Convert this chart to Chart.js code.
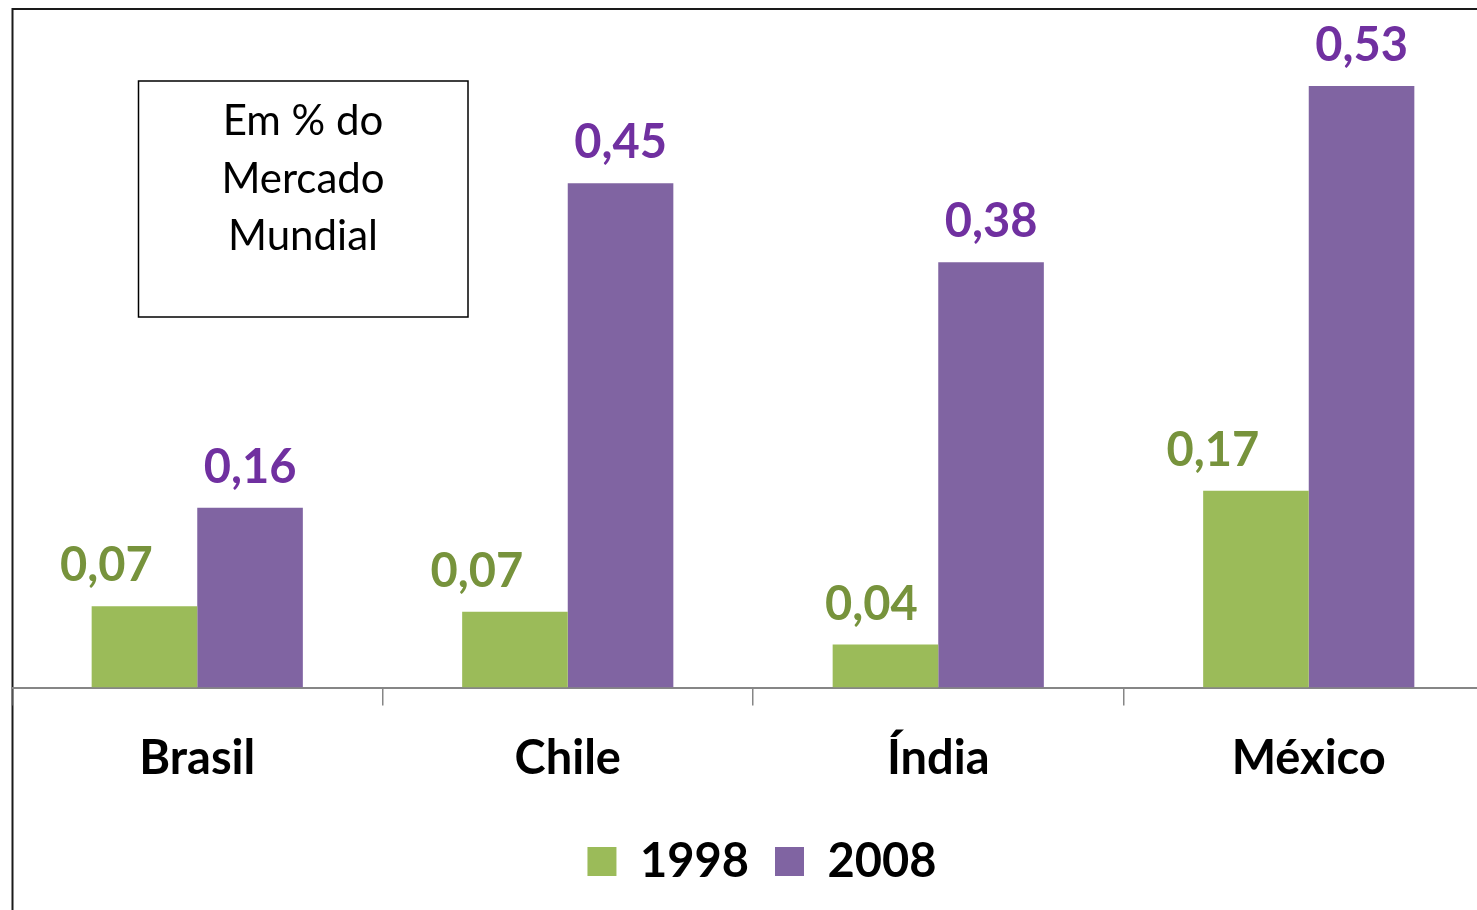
<!DOCTYPE html>
<html>
<head>
<meta charset="utf-8">
<script src="https://cdn.jsdelivr.net/npm/chart.js@4/dist/chart.umd.min.js"></script>
<style>
  html, body { margin: 0; padding: 0; background: #fff; overflow: hidden; }
  #wrap { position: absolute; left: 0; top: 0; width: 1528px; height: 930px; }
</style>
</head>
<body>
<div id="wrap"><canvas id="c" width="1528" height="930"></canvas></div>
<script>
const categories = ['Brasil', 'Chile', 'Índia', 'México'];
const seriesNames = ['1998', '2008'];
const values1998 = [0.072, 0.067, 0.038, 0.174];
const values2008 = [0.159, 0.446, 0.376, 0.532];
const insetLines = ['Em % do', 'Mercado', 'Mundial'];

const FONT = 'Lato, "Open Sans", sans-serif';
const fmt = v => v.toFixed(2).replace('.', ',');

const frameAndInset = {
  id: 'frameAndInset',
  beforeDraw(chart) {
    const ctx = chart.ctx;
    ctx.save();
    ctx.fillStyle = '#fff';
    ctx.fillRect(0, 0, chart.width, chart.height);
    ctx.strokeStyle = '#1a1a1a';
    ctx.lineWidth = 2;
    ctx.beginPath();
    ctx.moveTo(12.5, chart.height + 2);
    ctx.lineTo(12.5, 9);
    ctx.lineTo(chart.width + 2, 9);
    ctx.stroke();
    ctx.restore();
  },
  afterDraw(chart) {
    const ctx = chart.ctx;
    ctx.save();
    ctx.strokeStyle = '#000';
    ctx.lineWidth = 1.5;
    ctx.strokeRect(138.5, 81, 329.5, 236);
    ctx.fillStyle = '#000';
    ctx.font = '42px ' + FONT;
    ctx.textAlign = 'center';
    ctx.textBaseline = 'alphabetic';
    const base = [135, 193, 250];
    insetLines.forEach((t, i) => ctx.fillText(t, 303, base[i]));
    ctx.restore();
  }
};

const valueLabels = {
  id: 'valueLabels',
  afterDatasetsDraw(chart, args, opts) {
    const ctx = chart.ctx;
    ctx.save();
    ctx.font = 'bold 47px ' + FONT;
    ctx.textAlign = 'center';
    ctx.textBaseline = 'alphabetic';
    chart.data.datasets.forEach((ds, di) => {
      const meta = chart.getDatasetMeta(di);
      ctx.fillStyle = opts.colors[di];
      meta.data.forEach((bar, i) => {
        const dx = opts.shiftX[di][i];
        ctx.fillText(fmt(ds.data[i]), bar.x + dx, bar.y - opts.gap);
      });
    });
    ctx.restore();
  }
};

new Chart(document.getElementById('c'), {
  type: 'bar',
  data: {
    labels: categories,
    datasets: [
      { label: seriesNames[0], data: values1998, backgroundColor: '#9BBB59' },
      { label: seriesNames[1], data: values2008, backgroundColor: '#8064A2' }
    ]
  },
  options: {
    responsive: false,
    animation: false,
    devicePixelRatio: 1,
    layout: { padding: { left: 12, top: 9, right: 16, bottom: 35 } },
    datasets: { bar: { barPercentage: 1, categoryPercentage: 0.57 } },
    scales: {
      y: {
        position: 'right', min: 0, max: 0.6,
        ticks: { display: false },
        grid: { display: false },
        border: { display: false },
        afterFit(axis) { axis.width = 18; }
      },
      x: {
        grid: { drawOnChartArea: false, drawTicks: true, tickLength: 18, color: '#868686', lineWidth: 1.5 },
        border: { display: true, color: '#868686', width: 2 },
        ticks: { color: '#000', font: { family: FONT, size: 47, weight: 'bold' }, padding: 25 }
      }
    },
    plugins: {
      tooltip: { enabled: false },
      legend: {
        position: 'bottom',
        labels: {
          color: '#000',
          font: { family: FONT, size: 47, weight: 'bold' },
          boxWidth: 29, boxHeight: 29,
          padding: 26
        }
      },
      valueLabels: {
        colors: ['#77933C', '#7030A0'],
        shiftX: [[-38, -38, -14, -43], [0, 0, 0, 0]],
        gap: 25
      }
    }
  },
  plugins: [frameAndInset, valueLabels]
});
</script>
</body>
</html>
